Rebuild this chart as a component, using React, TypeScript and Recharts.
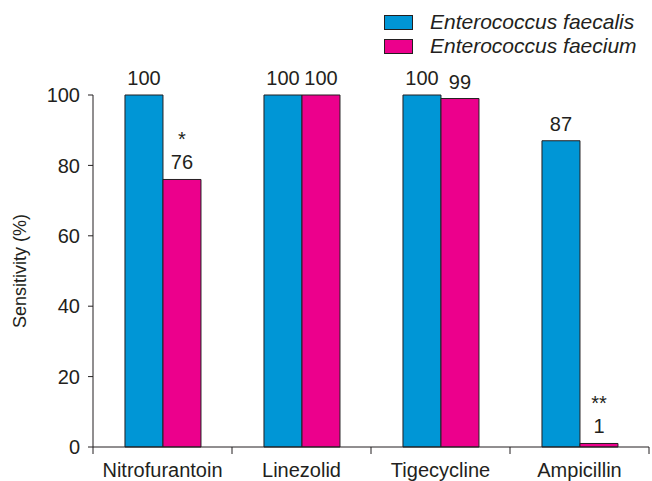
import React from 'react'
import { BarChart, Bar, XAxis, YAxis, Legend, LabelList, Label } from 'recharts'

const drugs = ['Nitrofurantoin', 'Linezolid', 'Tigecycline', 'Ampicillin']
const faecalis = [100, 100, 100, 87]
const faecium = [76, 100, 99, 1]
const faeciumMarks = ['*', '', '', '**']
const yTicks = [0, 20, 40, 60, 80, 100]

const data = drugs.map((name, i) => ({
  name,
  faecalis: faecalis[i],
  faecium: faecium[i],
}))

const INK = '#231f20'
const FONT = '"Liberation Sans", Arial, sans-serif'

function XTick(props: any) {
  const { x, y, payload, index, visibleTicksCount } = props
  const half = payload?.offset ?? 69.5
  const left = x - half
  const right = x + half
  return (
    <g>
      <line x1={left} y1={y} x2={left} y2={y + 7} stroke={INK} />
      {index === visibleTicksCount - 1 && <line x1={right} y1={y} x2={right} y2={y + 7} stroke={INK} />}
      <text x={x} y={y + 30} textAnchor="middle" fill={INK} fontSize={20} fontFamily={FONT}>
        {payload.value}
      </text>
    </g>
  )
}

function ValueLabel(props: any) {
  const { x, y, width, value, index, marks } = props
  const cx = x + width / 2
  const mark = marks ? marks[index] : ''
  return (
    <g fill={INK} fontSize={20} fontFamily={FONT} textAnchor="middle">
      <text x={cx} y={y - 10}>{value}</text>
      {mark && <text x={cx} y={y - 33}>{mark}</text>}
    </g>
  )
}

function LegendBox(props: any) {
  const items = props.payload || []
  return (
    <div style={{ fontFamily: FONT }}>
      {items.map((it: any, i: number) => (
        <div key={i} style={{ display: 'flex', alignItems: 'center', height: 24 }}>
          <span style={{ width: 27, height: 13, background: it.color, border: `1px solid ${INK}`, display: 'inline-block' }} />
          <span style={{ marginLeft: 17, fontSize: 21, fontStyle: 'italic', color: INK }}>{it.value}</span>
        </div>
      ))}
    </div>
  )
}

export default function App() {
  return (
    <div style={{ position: 'absolute', left: 0, top: 0, width: 652, height: 481, background: '#fff' }}>
      <BarChart
        width={652}
        height={481}
        data={data}
        margin={{ top: 95, right: 3, bottom: 0, left: 0 }}
        barCategoryGap="23%"
        barGap={0}
      >
        <XAxis
          dataKey="name"
          height={34}
          tickSize={0}
          tickMargin={0}
          tickLine={false}
          axisLine={{ stroke: INK }}
          tick={<XTick />}
          interval={0}
        />
        <YAxis
          width={93}
          domain={[0, 100]}
          ticks={yTicks}
          tickSize={5}
          tickMargin={8}
          axisLine={{ stroke: INK }}
          tickLine={{ stroke: INK }}
          tick={{ fill: INK, fontSize: 20, fontFamily: FONT }}
        >
          <Label
            value="Sensitivity (%)"
            angle={-90}
            position="insideLeft"
            offset={20}
            style={{ fill: INK, fontSize: 18, fontFamily: FONT, textAnchor: 'middle' }}
          />
        </YAxis>
        <Legend
          verticalAlign="middle"
          align="center"
          layout="horizontal"
          content={<LegendBox />}
          wrapperStyle={{ position: 'absolute', top: 10, left: 384, width: 268 }}
        />
        <Bar dataKey="faecalis" name="Enterococcus faecalis" fill="#0096d6" stroke={INK} strokeWidth={1} isAnimationActive={false}>
          <LabelList dataKey="faecalis" content={<ValueLabel />} />
        </Bar>
        <Bar dataKey="faecium" name="Enterococcus faecium" fill="#ec008c" stroke={INK} strokeWidth={1} isAnimationActive={false}>
          <LabelList dataKey="faecium" content={<ValueLabel marks={faeciumMarks} />} />
        </Bar>
      </BarChart>
    </div>
  )
}
